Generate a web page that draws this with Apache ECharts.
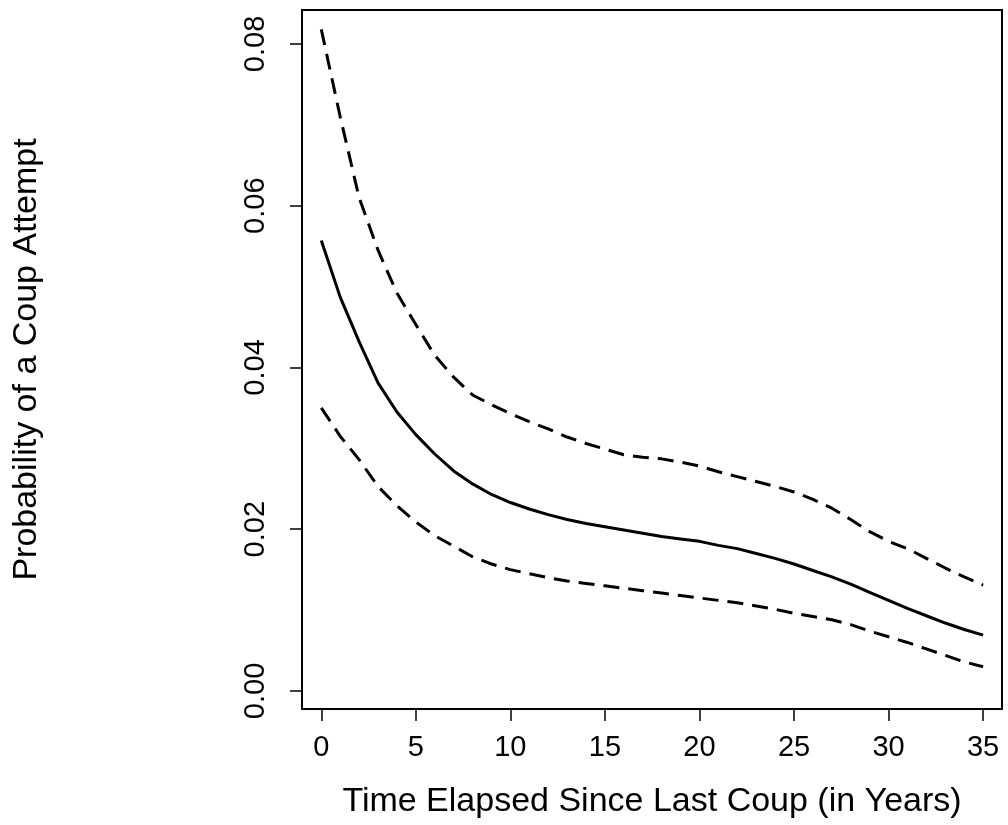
<!DOCTYPE html>
<html>
<head>
<meta charset="utf-8">
<script src="https://cdn.jsdelivr.net/npm/echarts@6/dist/echarts.min.js"></script>
<style>
  html, body { margin: 0; padding: 0; background: #fff; }
  #chart { width: 1008px; height: 825px; }
</style>
</head>
<body>
<div id="chart"></div>
<script>
// years since last coup
const years = [0, 1, 2, 3, 4, 5, 6, 7, 8, 9, 10, 11, 12, 13, 14, 15, 16, 17,
  18, 19, 20, 21, 22, 23, 24, 25, 26, 27, 28, 29, 30, 31, 32, 33, 34, 35];

// predicted probability (solid line)
const prob = [0.0557, 0.0487, 0.0432, 0.0381, 0.0345, 0.0317, 0.0293, 0.0272,
  0.0256, 0.0243, 0.0233, 0.0225, 0.0218, 0.0212, 0.0207, 0.0203, 0.0199,
  0.0195, 0.0191, 0.0188, 0.0185, 0.0180, 0.0176, 0.0170, 0.0164, 0.0157,
  0.0149, 0.0141, 0.0132, 0.0122, 0.0112, 0.0102, 0.0093, 0.0084, 0.0076,
  0.0069];

// upper bound (dashed)
const upper = [0.0818, 0.0710, 0.0610, 0.0545, 0.0492, 0.0453, 0.0415,
  0.0388, 0.0366, 0.0354, 0.0343, 0.0333, 0.0324, 0.0314, 0.0306, 0.0299,
  0.0292, 0.0289, 0.0287, 0.0283, 0.0278, 0.0271, 0.0265, 0.0259, 0.0253,
  0.0246, 0.0237, 0.0226, 0.0212, 0.0197, 0.0185, 0.0176, 0.0164, 0.0152,
  0.0141, 0.0131];

// lower bound (dashed)
const lower = [0.0350, 0.0315, 0.0286, 0.0253, 0.0229, 0.0209, 0.0192,
  0.0179, 0.0166, 0.0157, 0.0150, 0.0145, 0.0140, 0.0136, 0.0133, 0.0130,
  0.0127, 0.0124, 0.0121, 0.0118, 0.0115, 0.0112, 0.0109, 0.0105, 0.0101,
  0.0096, 0.0092, 0.0088, 0.0082, 0.0074, 0.0067, 0.0060, 0.0052, 0.0044,
  0.0036, 0.0030];

const xTicks = [0, 5, 10, 15, 20, 25, 30, 35];
const yTicks = [0, 0.02, 0.04, 0.06, 0.08];

// zip x with y
function pairs(ys) {
  return years.map((x, i) => [x, ys[i]]);
}

const chart = echarts.init(document.getElementById("chart"), null, { renderer: "canvas" });
const font = "Liberation Sans, Arial, Helvetica, sans-serif";

const option = {
  animation: false,
  backgroundColor: "#fff",
  grid: {
    left: 302,
    top: 10,
    right: 6,
    bottom: 116,
    show: true,
    borderColor: "#000",
    borderWidth: 2,
    backgroundColor: "transparent",
  },
  xAxis: {
    type: "value",
    min: -1.02,
    max: 36.0,
    name: "Time Elapsed Since Last Coup (in Years)",
    nameLocation: "middle",
    nameGap: 76,
    nameTextStyle: { fontSize: 34, color: "#000", fontFamily: font },
    axisLine: { show: false, onZero: false },
    splitLine: { show: false },
    axisTick: {
      show: true,
      length: 12,
      customValues: xTicks,
      lineStyle: { color: "#000", width: 1.5 },
    },
    axisLabel: {
      customValues: xTicks,
      fontSize: 29,
      color: "#000",
      fontFamily: font,
      margin: 24,
    },
  },
  yAxis: {
    type: "value",
    min: -0.00223,
    max: 0.0842,
    name: "Probability of a Coup Attempt",
    nameLocation: "middle",
    nameGap: 258,
    nameRotate: 90,
    nameTextStyle: { fontSize: 34, color: "#000", fontFamily: font },
    axisLine: { show: false, onZero: false },
    splitLine: { show: false },
    axisTick: {
      show: true,
      length: 12,
      customValues: yTicks,
      lineStyle: { color: "#000", width: 1.5 },
    },
    axisLabel: {
      customValues: yTicks,
      rotate: 90,
      fontSize: 29,
      color: "#000",
      fontFamily: font,
      margin: 32,
      formatter: (v) => v.toFixed(2),
    },
  },
  series: [
    {
      type: "line",
      data: pairs(prob),
      showSymbol: false,
      lineStyle: { color: "#000", width: 3 },
    },
    {
      type: "line",
      data: pairs(upper),
      showSymbol: false,
      lineStyle: { color: "#000", width: 3, type: [16, 9] },
    },
    {
      type: "line",
      data: pairs(lower),
      showSymbol: false,
      lineStyle: { color: "#000", width: 3, type: [16, 9] },
    },
  ],
};

chart.setOption(option);
</script>
</body>
</html>
